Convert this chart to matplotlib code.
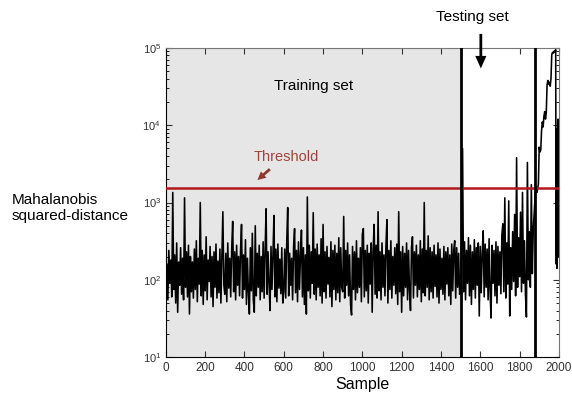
import numpy as np
import matplotlib
matplotlib.use('Agg')
import matplotlib.pyplot as plt

plt.rcParams['font.family'] = ['Liberation Sans', 'DejaVu Sans']
plt.rcParams['mathtext.fontset'] = 'custom'
plt.rcParams['mathtext.rm'] = 'Liberation Sans'

# Mahalanobis squared distance, training part (samples 0..1495, step 5)
train_vals = [
    70, 160, 55, 240, 90, 180, 60, 1350, 75, 210, 50, 300, 38, 170, 85, 260, 65, 190, 55, 1150, 80, 230, 60, 280, 36, 200, 70, 170, 58, 250,
    75, 320, 52, 190, 88, 1000, 62, 240, 48, 210, 72, 360, 55, 180, 95, 270, 60, 200, 45, 230, 80, 290, 58, 175, 68, 250, 50, 210, 760, 85,
    65, 220, 52, 300, 78, 190, 60, 250, 570, 70, 230, 55, 280, 85, 200, 62, 240, 520, 58, 210, 75, 330, 48, 190, 68, 36, 260, 72, 400, 55,
    38, 500, 62, 220, 80, 280, 55, 200, 70, 310, 58, 240, 830, 65, 230, 90, 40, 270, 75, 210, 680, 60, 250, 52, 290, 78, 185, 66, 260, 50,
    70, 250, 58, 300, 860, 62, 220, 85, 190, 55, 270, 460, 68, 240, 52, 310, 75, 200, 440, 60, 260, 48, 210, 36, 1180, 72, 280, 58, 230, 90,
    740, 65, 250, 55, 290, 80, 210, 62, 340, 50, 520, 70, 230, 58, 270, 88, 195, 60, 310, 45, 240, 75, 280, 55, 220, 68, 350, 52, 260, 80,
    70, 660, 58, 240, 85, 300, 62, 210, 48, 35, 270, 75, 230, 55, 320, 68, 190, 80, 260, 52, 390, 460, 60, 240, 72, 280, 50, 220, 88, 300,
    38, 250, 520, 65, 280, 58, 760, 72, 230, 55, 300, 80, 210, 62, 270, 600, 50, 240, 75, 320, 58, 200, 85, 260, 66, 290, 48, 760, 70, 230,
    38, 270, 62, 220, 80, 300, 55, 240, 72, 40, 260, 360, 58, 230, 85, 280, 60, 210, 75, 320, 52, 250, 68, 1000, 62, 240, 80, 370, 55, 260,
    70, 230, 58, 280, 82, 210, 60, 300, 50, 250, 75, 190, 65, 270, 55, 230, 88, 260, 62, 210, 48, 290, 72, 240, 320, 58, 260, 80, 220, 65,
]

# testing part (samples 1500..1870, step 5)
test_vals = [
    80, 260, 5000, 70, 310, 55, 240, 90, 350, 62, 280, 48, 230, 75, 330, 58, 260, 85, 300, 34,
    270, 68, 220, 430, 60, 290, 80, 250, 55, 340, 72, 32, 280, 90, 240, 62, 310, 50, 270, 85,
    230, 66, 380, 530, 70, 1150, 58, 300, 88, 1050, 34, 260, 75, 420, 95, 700, 62, 3800, 80, 350,
    110, 750, 70, 1350, 90, 320, 65, 33, 3300, 100, 420, 80, 1700, 120, 460,
]

# fault development (samples 1880..1984, step 4)
rise_vals = [
    1300, 1600, 1350, 1500, 1750, 5200, 4500, 4800, 8500, 11000, 9500, 13000, 15000, 12000,
    14500, 33000, 38000, 34000, 36000, 32000, 40000, 82000, 88000, 86000, 91000, 89000, 95000,
]

# last samples (1986..2000, step 2)
tail_vals = [160, 9000, 140, 3000, 300, 12000, 200, 4000]

threshold = 1520
train_end = 1500
test_split = 1878

x_train = 5 * np.arange(len(train_vals))
x_test = 1500 + 5 * np.arange(len(test_vals))
x_rise = 1880 + 4 * np.arange(len(rise_vals))
x_tail = 1986 + 2 * np.arange(len(tail_vals))
x = np.concatenate([x_train, x_test, x_rise, x_tail])
y = np.concatenate([train_vals, test_vals, rise_vals, tail_vals])

fig = plt.figure(figsize=(5.72, 4.03), dpi=100)
ax = fig.add_axes([0.290, 0.114, 0.687, 0.767])

ax.axvspan(0, train_end, color='#e6e6e6', zorder=0, lw=0)
ax.plot(x, y, color='black', lw=1.15, zorder=2)
ax.axhline(threshold, color='#b3181f', lw=1.8, zorder=3)
ax.axvline(train_end, color='black', lw=2, zorder=4)
ax.axvline(test_split, color='black', lw=2, zorder=4)

ax.set_yscale('log')
ax.set_xlim(0, 2000)
ax.set_ylim(10, 1e5)
ax.set_xticks(np.arange(0, 2001, 200))
ax.tick_params(axis='both', which='both', direction='in', top=True, right=True)
ax.tick_params(axis='x', labelsize=8.5, colors='#333333', length=4)
ax.tick_params(axis='y', which='major', labelsize=8, colors='#333333', length=4)
ax.tick_params(axis='y', which='minor', length=2)
for s in ['top', 'right']:
    ax.spines[s].set_color('#777777')

ax.set_xlabel('Sample', fontsize=11.5, labelpad=2)
fig.text(12 / 572, 1 - 208 / 403, 'Mahalanobis\nsquared-distance', fontsize=11,
         ha='left', va='center', linespacing=1.25)

ax.text(753, 32000, 'Training set', fontsize=11, ha='center', va='center')
ax.text(611, 3900, 'Threshold', fontsize=10.5, ha='center', va='center', color='#a0443a')
ax.annotate('', xy=(455, 1850), xytext=(540, 2850),
            arrowprops=dict(arrowstyle='simple,head_width=0.6,head_length=0.6,tail_width=0.2',
                            color='#8b3a30', lw=0))

fig.text(472 / 572, 1 - 17 / 403, 'Testing set', fontsize=11, ha='center', va='center')
ax.annotate('', xy=(1603, 50000), xytext=(1603, 1.65e5),
            arrowprops=dict(arrowstyle='simple,head_width=0.8,head_length=0.9,tail_width=0.2',
                            color='black', lw=0), annotation_clip=False)

fig.savefig('out.png', dpi=100)
